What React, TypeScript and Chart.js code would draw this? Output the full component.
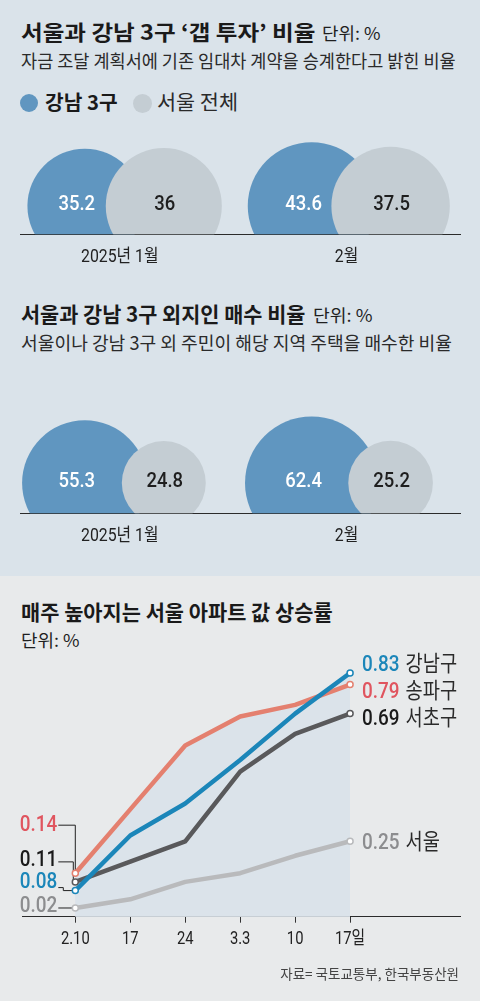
import React, { useEffect, useLayoutEffect, useRef } from "react";
import Chart from "chart.js/auto";

// 갭 투자 / 외지인 매수 비율 (단위: %)
const months = ["2025년 1월", "2월"];
const gapGangnam = [35.2, 43.6];
const gapSeoul = [36, 37.5];
const outsideGangnam = [55.3, 62.4];
const outsideSeoul = [24.8, 25.2];

// 주간 아파트 값 상승률 (단위: %)
const weeks = ["2.10", "17", "24", "3.3", "10", "17일"];
const gangnamGu = [0.08, 0.27, 0.38, 0.53, 0.69, 0.83];
const songpaGu = [0.14, 0.36, 0.58, 0.68, 0.72, 0.79];
const seochoGu = [0.11, 0.18, 0.25, 0.49, 0.62, 0.69];
const seoulAll = [0.02, 0.05, 0.11, 0.14, 0.2, 0.25];
const seriesNames = ["강남구", "송파구", "서초구", "서울"];

const BLUE = "#6096c0";
const GRAY = "#c4cdd3";
const KR = '"Noto Sans CJK KR"';
const NUM = 'Roboto, "Noto Sans CJK KR"';

// condensed canvas text, y is the visual middle of the glyphs
function txt(
  ctx: CanvasRenderingContext2D,
  s: string,
  x: number,
  y: number,
  font: string,
  size: number,
  color: string,
  align: CanvasTextAlign,
  sx: number
) {
  ctx.save();
  ctx.font = font;
  ctx.fillStyle = color;
  ctx.textAlign = align;
  ctx.textBaseline = "alphabetic";
  ctx.translate(x, y + size * 0.36);
  ctx.scale(sx, 1);
  ctx.fillText(s, 0, 0);
  const w = ctx.measureText(s).width * sx;
  ctx.restore();
  return w;
}

type PairProps = {
  top: number;
  height: number;
  baseY: number;
  centerY: number;
  blue: number[];
  gray: number[];
  k: number;
};

const BubblePair = ({ top, height, baseY, centerY, blue, gray, k }: PairProps) => {
  const ref = useRef<HTMLCanvasElement>(null);

  useEffect(() => {
    if (!ref.current) return;
    const area = baseY - top;
    const below = (baseY - centerY) / area;
    const xMin = -0.44;
    const xMax = 1.5;
    const ppu = 440 / (xMax - xMin);
    // circle area follows the value
    const rad = (v: number) => k * Math.sqrt(v);
    const clip = { left: false, top: false, right: false, bottom: 0 } as any;

    const labels = {
      id: "pairLabels",
      afterDatasetsDraw(chart: any) {
        const ctx = chart.ctx;
        [gray, blue].forEach((vals, di) => {
          const meta = chart.getDatasetMeta(di);
          meta.data.forEach((el: any, i: number) => {
            txt(ctx, String(vals[i]), el.x + (di === 0 ? 1 : -8), el.y - 4,
              `500 21px ${NUM}`, 21, di === 0 ? "#1e1e1e" : "#ffffff", "center", 0.88);
          });
        });
        const xs = chart.scales.x;
        months.forEach((m, i) => {
          txt(ctx, m, xs.getPixelForValue(i), chart.chartArea.bottom + 21,
            `400 18px ${NUM}`, 18, "#222", "center", 0.88);
        });
      },
    };

    const chart = new Chart(ref.current, {
      type: "bubble",
      data: {
        datasets: [
          {
            label: "서울 전체",
            data: gray.map((v, i) => ({ x: i + 44 / ppu, y: 0, r: rad(v) })),
            backgroundColor: GRAY,
            borderWidth: 0,
            clip,
          },
          {
            label: "강남 3구",
            data: blue.map((v, i) => ({ x: i - 35 / ppu, y: 0, r: rad(v) })),
            backgroundColor: BLUE,
            borderWidth: 0,
            clip,
          },
        ],
      },
      options: {
        animation: false,
        responsive: false,
        layout: { autoPadding: false, padding: { left: 20, right: 20, top: 0, bottom: 0 } },
        plugins: { legend: { display: false }, tooltip: { enabled: false } },
        scales: {
          x: {
            type: "linear",
            min: xMin,
            max: xMax,
            afterBuildTicks: (s: any) => {
              s.ticks = months.map((_, i) => ({ value: i }));
            },
            afterFit: (s: any) => {
              s.height = height - area;
            },
            grid: { display: false },
            border: { display: true, color: "#2b2b2b", width: 1 },
            ticks: { display: false },
          },
          y: { display: false, min: -below, max: 1 - below },
        },
      },
      plugins: [labels],
    } as any);

    return () => chart.destroy();
  }, []);

  return (
    <canvas
      ref={ref}
      width={480}
      height={height}
      style={{ position: "absolute", left: 0, top, width: 480, height }}
    />
  );
};

const LineChart = () => {
  const ref = useRef<HTMLCanvasElement>(null);

  useEffect(() => {
    if (!ref.current) return;
    const series = [gangnamGu, songpaGu, seochoGu, seoulAll];
    const lineColors = ["#1b86b9", "#e4806f", "#59595b", "#b9babc"];
    const numColors = ["#1b86b9", "#e0555f", "#1a1a1a", "#8c8d8f"];
    // label placement relative to the end / start points
    const endDy = [-10, 5, 3, 0];
    const startDy = [-11, -50, -24, -4];
    const leaderDy = [8, 2, 4, 4];
    const elbowDx = [-12, 0, -2, 0];
    const height = 330;
    const axisY = 916.7 - 640;

    const labels = {
      id: "lineLabels",
      beforeDatasetsDraw(chart: any) {
        const ctx = chart.ctx;
        ctx.save();
        ctx.strokeStyle = "#222";
        ctx.lineWidth = 1;
        series.forEach((_, di) => {
          const p = chart.getDatasetMeta(di).data[0];
          const ly = p.y + startDy[di] + leaderDy[di];
          const ex = p.x + elbowDx[di];
          ctx.beginPath();
          ctx.moveTo(p.x - 17, ly);
          ctx.lineTo(ex, ly);
          ctx.lineTo(ex, p.y);
          ctx.lineTo(p.x, p.y);
          ctx.stroke();
        });
        ctx.restore();
      },
      afterDatasetsDraw(chart: any) {
        const ctx = chart.ctx;
        series.forEach((vals, di) => {
          const pts = chart.getDatasetMeta(di).data;
          const first = pts[0];
          const last = pts[pts.length - 1];
          txt(ctx, vals[0].toFixed(2), first.x - 18, first.y + startDy[di],
            `500 22px ${NUM}`, 22, numColors[di], "right", 0.86);
          const w = txt(ctx, vals[vals.length - 1].toFixed(2), last.x + 12, last.y + endDy[di],
            `500 22px ${NUM}`, 22, numColors[di], "left", 0.86);
          txt(ctx, seriesNames[di], last.x + 12 + w + 6, last.y + endDy[di],
            `400 22px ${KR}`, 22, "#2a2a2a", "left", 0.85);
        });
        const xs = chart.scales.x;
        weeks.forEach((w, i) => {
          txt(ctx, w, xs.getPixelForValue(i), chart.chartArea.bottom + 21.3,
            `400 18px ${NUM}`, 18, "#222", "center", 0.82);
        });
      },
    };

    const chart = new Chart(ref.current, {
      type: "line",
      data: {
        datasets: series.map((vals, di) => ({
          label: seriesNames[di],
          data: vals.map((v, i) => ({ x: i, y: v })),
          borderColor: lineColors[di],
          borderWidth: 4.5,
          borderCapStyle: "round",
          borderJoinStyle: "round",
          tension: 0,
          fill: "start",
          backgroundColor: "#dbe3ea",
          pointRadius: (c: any) => (c.dataIndex === 0 || c.dataIndex === vals.length - 1 ? 3 : 0),
          pointBorderWidth: 1.5,
          pointBackgroundColor: "#ffffff",
          pointBorderColor: lineColors[di],
        })),
      },
      options: {
        animation: false,
        responsive: false,
        layout: { autoPadding: false, padding: { left: 22, right: 20, top: 12.7, bottom: 0 } },
        plugins: {
          legend: { display: false },
          tooltip: { enabled: false },
          filler: { drawTime: "beforeDatasetsDraw" },
        },
        scales: {
          x: {
            type: "linear",
            min: -0.97,
            max: 7,
            afterBuildTicks: (s: any) => {
              s.ticks = weeks.map((_, i) => ({ value: i }));
            },
            afterFit: (s: any) => {
              s.height = height - axisY;
            },
            grid: { display: true, drawOnChartArea: false, drawTicks: true, tickLength: 6, color: "#333" },
            border: { display: true, color: "#2b2b2b", width: 1 },
            ticks: { display: false },
          },
          y: { display: false, min: -0.01, max: 0.9 },
        },
      },
      plugins: [labels],
    } as any);

    return () => chart.destroy();
  }, []);

  return (
    <canvas
      ref={ref}
      width={480}
      height={330}
      style={{ position: "absolute", left: 0, top: 640, width: 480, height: 330 }}
    />
  );
};

type TProps = {
  x: number;
  cy: number;
  size: number;
  w: number;
  weight?: number;
  color?: string;
  right?: boolean;
  children: React.ReactNode;
};

// html text line squeezed/stretched to the width it has in the reference
const T = ({ x, cy, size, w, weight = 400, color = "#1f1f1f", right, children }: TProps) => {
  const ref = useRef<HTMLDivElement>(null);
  useLayoutEffect(() => {
    const el = ref.current;
    if (!el) return;
    const nat = el.offsetWidth;
    if (nat > 0) el.style.transform = `scaleX(${w / nat})`;
  }, []);
  return (
    <div
      ref={ref}
      style={{
        position: "absolute",
        top: cy - size * 0.56,
        ...(right ? { right: 480 - x } : { left: x }),
        fontFamily: KR,
        fontSize: size,
        fontWeight: weight,
        lineHeight: 1,
        color,
        whiteSpace: "nowrap",
        transformOrigin: right ? "right center" : "left center",
      }}
    >
      {children}
    </div>
  );
};

const Dot = ({ cx, cy, r, color }: { cx: number; cy: number; r: number; color: string }) => (
  <div
    style={{
      position: "absolute",
      left: cx - r,
      top: cy - r,
      width: r * 2,
      height: r * 2,
      borderRadius: "50%",
      background: color,
    }}
  />
);

export default function App() {
  return (
    <div style={{ position: "absolute", left: 0, top: 0, width: 480, height: 1001, overflow: "hidden" }}>
      <div style={{ position: "absolute", left: 0, top: 0, width: 480, height: 576, background: "#dae3ea" }} />
      <div style={{ position: "absolute", left: 0, top: 576, width: 480, height: 425, background: "#e8eaeb" }} />

      <T x={21} cy={33} size={21} w={294} weight={700} color="#1a1a1a">서울과 강남 3구 ‘갭 투자’ 비율</T>
      <T x={322} cy={34} size={17} w={58}>단위: %</T>
      <T x={21} cy={61.5} size={18.5} w={435} color="#2a2a2a">자금 조달 계획서에 기존 임대차 계약을 승계한다고 밝힌 비율</T>

      <Dot cx={29} cy={103} r={9} color={BLUE} />
      <T x={45} cy={103} size={20} w={73} weight={700} color="#1a1a1a">강남 3구</T>
      <Dot cx={142.5} cy={103} r={9.5} color={GRAY} />
      <T x={157} cy={103} size={20} w={81} color="#2a2a2a">서울 전체</T>

      <BubblePair top={120} height={160} baseY={234.3} centerY={206} blue={gapGangnam} gray={gapSeoul} k={9.67} />

      <T x={21} cy={315} size={21} w={284} weight={700} color="#1a1a1a">서울과 강남 3구 외지인 매수 비율</T>
      <T x={313} cy={316} size={17} w={59}>단위: %</T>
      <T x={21} cy={343} size={18.5} w={431} color="#2a2a2a">서울이나 강남 3구 외 주민이 해당 지역 주택을 매수한 비율</T>

      <BubblePair top={400} height={160} baseY={513.3} centerY={483} blue={outsideGangnam} gray={outsideSeoul} k={8.43} />

      <T x={21} cy={612.3} size={21} w={312} weight={700} color="#1a1a1a">매주 높아지는 서울 아파트 값 상승률</T>
      <T x={21} cy={640.5} size={17} w={58}>단위: %</T>

      <LineChart />

      <T x={459} cy={975} size={13.5} w={179} color="#444" right>자료= 국토교통부, 한국부동산원</T>
    </div>
  );
}
